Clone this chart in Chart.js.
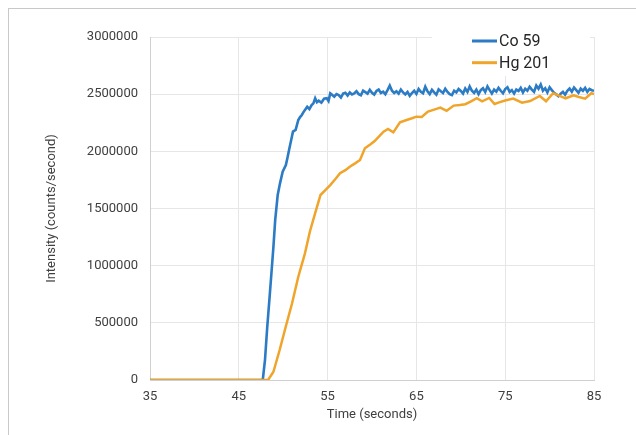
<!DOCTYPE html>
<html>
<head>
<meta charset="utf-8">
<script src="https://cdn.jsdelivr.net/npm/chart.js@4/dist/chart.umd.min.js"></script>
<style>
  html, body { margin: 0; padding: 0; background: #fff; overflow: hidden; }
  #frame { position: absolute; left: 8px; top: 8px; width: 700px; height: 500px; border: 1px solid #c8c8c8; }
  #chart { position: absolute; left: 0; top: 0; }
</style>
</head>
<body>
<div id="frame"></div>
<canvas id="chart" width="636" height="435"></canvas>
<script>
const seriesNames = ['Co 59', 'Hg 201'];

// Co 59: sampled fast, noisy plateau
const coTimes = [
  35, 47.7, 47.95, 48.2, 48.5, 48.7, 48.9, 49.1, 49.38, 49.64, 49.94,
  50.3, 50.5, 50.7, 50.9, 51.1, 51.4, 51.7, 51.9, 52.1, 52.3, 52.45,
  52.7, 52.95, 53.2, 53.4, 53.6, 53.8, 54.0, 54.3, 54.6, 54.9, 55.1, 55.3,
  55.5, 55.75,
  56, 56.25, 56.5, 56.75, 57, 57.25, 57.5, 57.75,
  58, 58.25, 58.5, 58.75, 59, 59.25, 59.5, 59.75,
  60, 60.25, 60.5, 60.75, 61, 61.25, 61.5, 61.75,
  62, 62.25, 62.5, 62.75, 63, 63.25, 63.5, 63.75,
  64, 64.25, 64.5, 64.75, 65, 65.25, 65.5, 65.75,
  66, 66.25, 66.5, 66.75, 67, 67.25, 67.5, 67.75,
  68, 68.25, 68.5, 68.75, 69, 69.25, 69.5, 69.75,
  70, 70.25, 70.5, 70.75, 71, 71.25, 71.5, 71.75,
  72, 72.25, 72.5, 72.75, 73, 73.25, 73.5, 73.75,
  74, 74.25, 74.5, 74.75, 75, 75.25, 75.5, 75.75,
  76, 76.25, 76.5, 76.75, 77, 77.25, 77.5, 77.75,
  78, 78.25, 78.5, 78.75, 79, 79.25, 79.5, 79.75,
  80, 80.25, 80.5, 80.75, 81, 81.25, 81.5, 81.75,
  82, 82.25, 82.5, 82.75, 83, 83.25, 83.5, 83.75,
  84, 84.25, 84.5, 84.75, 85
];
const coValues = [
  0, 0, 175000, 460000, 758000, 960000, 1166000, 1400000, 1618000, 1720000, 1822000,
  1880000, 1950000, 2027000, 2100000, 2172000, 2187000, 2274000, 2300000, 2318000, 2345000, 2362000,
  2390000, 2370000, 2405000, 2420000, 2464000, 2430000, 2443000, 2425000, 2460000, 2464000, 2440000, 2507000,
  2495000, 2478000,
  2500000, 2492000, 2470000, 2505000, 2512000, 2488000, 2515000, 2498000,
  2506000, 2525000, 2500000, 2490000, 2530000, 2518000, 2505000, 2538000,
  2512000, 2496000, 2528000, 2540000, 2510000, 2522000, 2500000, 2535000,
  2575000, 2530000, 2510000, 2525000, 2505000, 2540000, 2515000, 2498000,
  2520000, 2485000, 2510000, 2530000, 2502000, 2545000, 2520000, 2508000,
  2565000, 2525000, 2500000, 2538000, 2515000, 2495000, 2542000, 2525000,
  2510000, 2548000, 2520000, 2500000, 2492000, 2530000, 2515000, 2545000,
  2528000, 2505000, 2550000, 2520000, 2568000, 2530000, 2510000, 2540000,
  2500000, 2535000, 2552000, 2518000, 2568000, 2535000, 2505000, 2540000,
  2522000, 2555000, 2530000, 2508000, 2545000, 2560000, 2520000, 2535000,
  2505000, 2540000, 2528000, 2555000, 2515000, 2548000, 2530000, 2565000,
  2540000, 2520000, 2575000, 2548000, 2585000, 2530000, 2552000, 2515000,
  2560000, 2535000, 2512000, 2498000, 2482000, 2505000, 2520000, 2495000,
  2530000, 2550000, 2522000, 2558000, 2535000, 2512000, 2548000, 2530000,
  2555000, 2520000, 2545000, 2535000, 2530000
];

// Hg 201: slower sampling, slower rise
const hgTimes = [
  35, 48.3, 48.9, 49.6, 50.3, 51.0, 51.7, 52.45, 53.0, 53.6, 54.2, 54.8, 55.3, 55.9,
  56.4, 57.0, 57.5, 58.1, 58.65, 59.2, 59.8, 60.3, 60.8, 61.3, 61.8, 62.4, 63.15, 63.9,
  64.5, 65.0, 65.6, 66.3, 67.0, 67.7, 68.4, 69.2, 69.9, 70.5, 71.1, 71.8, 72.4, 73.2,
  73.8, 74.4, 75.0, 75.9, 76.9, 77.8, 78.9, 79.6, 80.4, 81.0, 81.8, 82.7, 83.3, 84.0,
  84.7, 85.0
];
const hgValues = [
  0, 0, 72000, 262000, 470000, 671000, 903000, 1108000, 1297000, 1460000, 1618000, 1665000, 1705000, 1760000,
  1808000, 1835000, 1866000, 1895000, 1924000, 2027000, 2060000, 2090000, 2130000, 2172000, 2195000, 2166000, 2254000, 2274000,
  2289000, 2303000, 2300000, 2347000, 2365000, 2382000, 2355000, 2400000, 2405000, 2412000, 2435000, 2465000, 2437000, 2467000,
  2414000, 2430000, 2445000, 2462000, 2425000, 2440000, 2484000, 2438000, 2508000, 2490000, 2464000, 2490000, 2475000, 2460000,
  2508000, 2500000
];

const xTicks = [35, 45, 55, 65, 75, 85];
const yTicks = [0, 500000, 1000000, 1500000, 2000000, 2500000, 3000000];

const lineColors = ['#2b7bc5', '#f0a429'];

function toPoints(times, values) {
  return times.map((t, i) => ({ x: t, y: values[i] }));
}

// legend drawn inside the plot, over the grid, like the original
const innerLegend = {
  id: 'innerLegend',
  beforeDatasetsDraw(chart) {
    const ctx = chart.ctx;
    ctx.save();
    ctx.fillStyle = '#ffffff';
    ctx.fillRect(432, 26, 158, 50);
    ctx.font = '16px Roboto';
    ctx.textBaseline = 'middle';
    ctx.textAlign = 'left';
    chart.data.datasets.forEach((ds, i) => {
      const y = 41 + i * 21.7;
      ctx.strokeStyle = ds.borderColor;
      ctx.lineWidth = 3;
      ctx.beginPath();
      ctx.moveTo(472, y);
      ctx.lineTo(497, y);
      ctx.stroke();
      ctx.fillStyle = '#262626';
      ctx.fillText(ds.label, 499, y + 1);
    });
    ctx.restore();
  }
};

const tickFont = { family: 'Roboto', size: 13 };

new Chart(document.getElementById('chart'), {
  type: 'line',
  data: {
    datasets: [
      {
        label: seriesNames[0],
        data: toPoints(coTimes, coValues),
        borderColor: lineColors[0],
        borderWidth: 2.6,
        pointRadius: 0,
        tension: 0,
        order: 1
      },
      {
        label: seriesNames[1],
        data: toPoints(hgTimes, hgValues),
        borderColor: lineColors[1],
        borderWidth: 2.5,
        pointRadius: 0,
        tension: 0,
        order: 0
      }
    ]
  },
  options: {
    responsive: false,
    animation: false,
    devicePixelRatio: 1,
    layout: { padding: { left: 0, top: 37, right: 42, bottom: 0 } },
    plugins: {
      legend: { display: false },
      tooltip: { enabled: false }
    },
    scales: {
      x: {
        type: 'linear',
        min: 35,
        max: 85,
        afterBuildTicks: axis => { axis.ticks = xTicks.map(v => ({ value: v })); },
        afterFit: axis => { axis.height = 55; },
        grid: { color: '#e6e6e6', drawTicks: false },
        border: { color: '#d0d0d0' },
        ticks: { font: tickFont, color: '#404040', padding: 9, maxRotation: 0 },
        title: {
          display: true,
          text: 'Time (seconds)',
          font: tickFont,
          color: '#404040',
          padding: { top: 0, bottom: 12 }
        }
      },
      y: {
        min: 0,
        max: 3000000,
        afterBuildTicks: axis => { axis.ticks = yTicks.map(v => ({ value: v })); },
        afterFit: axis => { axis.width = 150; },
        grid: { color: '#e6e6e6', drawTicks: false },
        border: { color: '#d0d0d0' },
        ticks: { font: tickFont, color: '#404040', padding: 12, callback: v => String(v) },
        title: {
          display: true,
          text: 'Intensity (counts/second)',
          font: tickFont,
          color: '#404040',
          padding: { top: 44, bottom: 0 }
        }
      }
    }
  },
  plugins: [innerLegend]
});
</script>
</body>
</html>
